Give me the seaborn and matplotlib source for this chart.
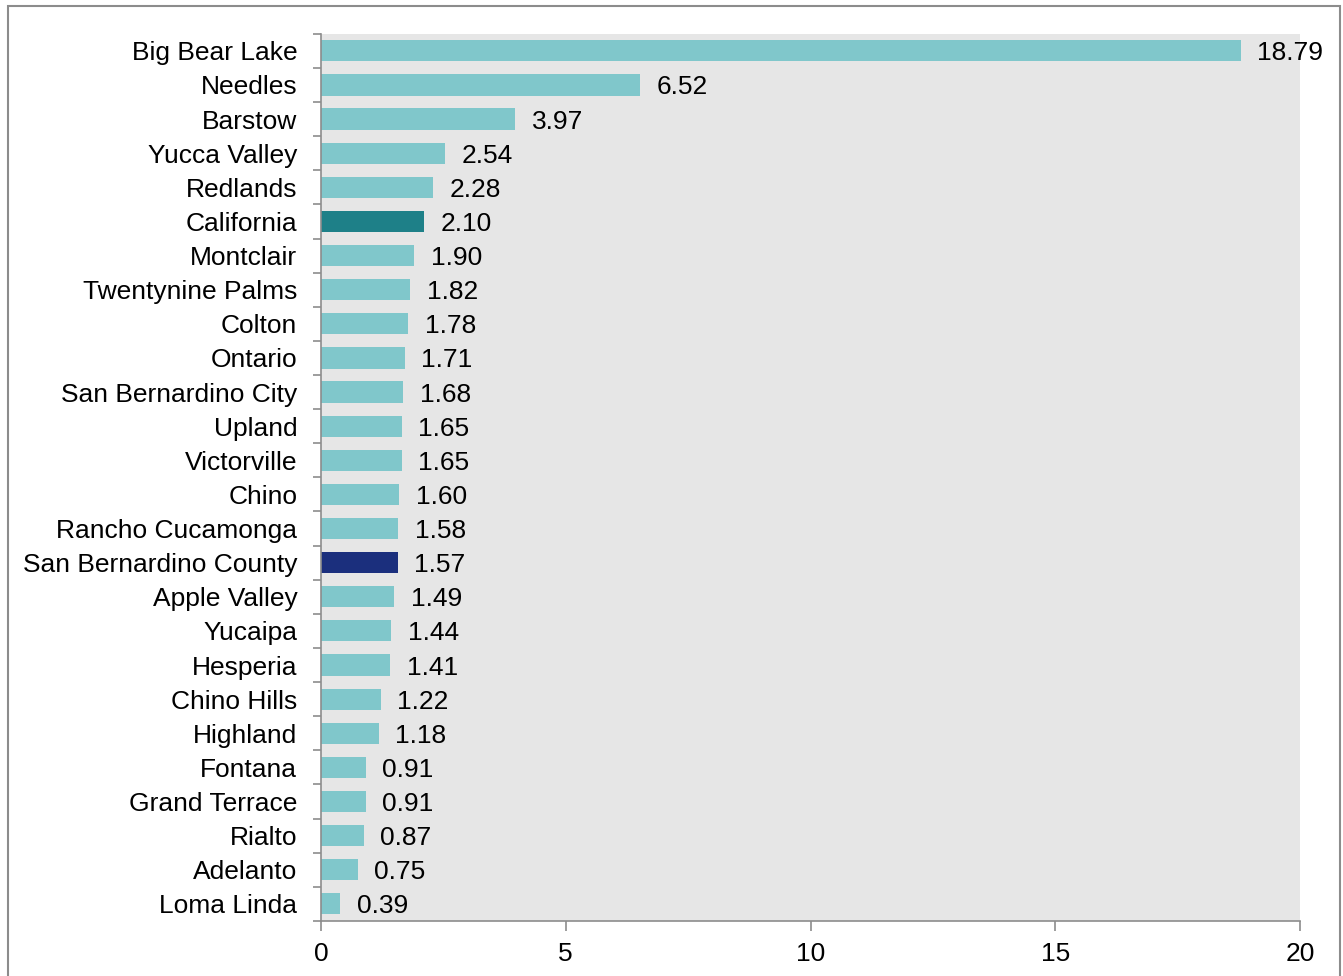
import matplotlib
matplotlib.use("Agg")
import matplotlib.pyplot as plt
import seaborn as sns
import pandas as pd
from matplotlib.patches import Rectangle

# 데이터
places = ["Big Bear Lake", "Needles", "Barstow", "Yucca Valley", "Redlands", "California",
          "Montclair", "Twentynine Palms", "Colton", "Ontario", "San Bernardino City",
          "Upland", "Victorville", "Chino", "Rancho Cucamonga", "San Bernardino County",
          "Apple Valley", "Yucaipa", "Hesperia", "Chino Hills", "Highland", "Fontana",
          "Grand Terrace", "Rialto", "Adelanto", "Loma Linda"]
values = [18.79, 6.52, 3.97, 2.54, 2.28, 2.10, 1.90, 1.82, 1.78, 1.71, 1.68, 1.65, 1.65,
          1.60, 1.58, 1.57, 1.49, 1.44, 1.41, 1.22, 1.18, 0.91, 0.91, 0.87, 0.75, 0.39]
x_ticks = [0, 5, 10, 15, 20]

light = "#80C7CB"
highlight = {"California": "#1E8088", "San Bernardino County": "#1B2F7D"}
palette = {p: highlight.get(p, light) for p in places}

df = pd.DataFrame({"place": places, "value": values})

sns.set_style("white")
plt.rcParams["font.family"] = ["Liberation Sans", "DejaVu Sans"]

fig = plt.figure(figsize=(13.43, 9.76), dpi=100)
ax = fig.add_axes([0.239, 0.0564, 0.729, 0.909])
ax.set_facecolor("#E6E6E6")

sns.barplot(data=df, x="value", y="place", hue="place", palette=palette,
            orient="h", width=0.62, legend=False, ax=ax, saturation=1, linewidth=0)

for c in ax.containers:
    for t in ax.bar_label(c, fmt="%.2f", padding=12, fontsize=19, color="black"):
        t.set_va("center_baseline")

ax.set_xlim(0, 20)
ax.set_ylim(len(places) - 0.5, -0.5)
ax.set_xticks(x_ticks)
ax.set_xticklabels([str(t) for t in x_ticks])
ax.set_yticks(range(len(places)))
ax.set_yticklabels(places)
ax.set_yticks([i + 0.5 for i in range(-1, len(places))], minor=True)
ax.tick_params(axis="y", which="major", left=True, length=0, pad=17, labelsize=19, labelcolor="black")
ax.tick_params(axis="y", which="minor", left=True, length=6, width=1.2, color="#8C8C8C", direction="out")
ax.tick_params(axis="x", which="major", bottom=True, length=7, width=1.2, color="#8C8C8C",
               direction="out", pad=8, labelsize=19, labelcolor="black")
ax.set_xlabel("")
ax.set_ylabel("")

for s in ["top", "right"]:
    ax.spines[s].set_visible(False)
for s in ["left", "bottom"]:
    ax.spines[s].set_color("#8C8C8C")
    ax.spines[s].set_linewidth(1.2)

# 바깥 테두리
fig.patches.append(Rectangle((8 / 1343, -0.02), 1332 / 1343, 1 - 6 / 976 + 0.02,
                             transform=fig.transFigure, fill=False,
                             edgecolor="#8C8C8C", linewidth=1.5))

fig.savefig("out.png", dpi=100)
